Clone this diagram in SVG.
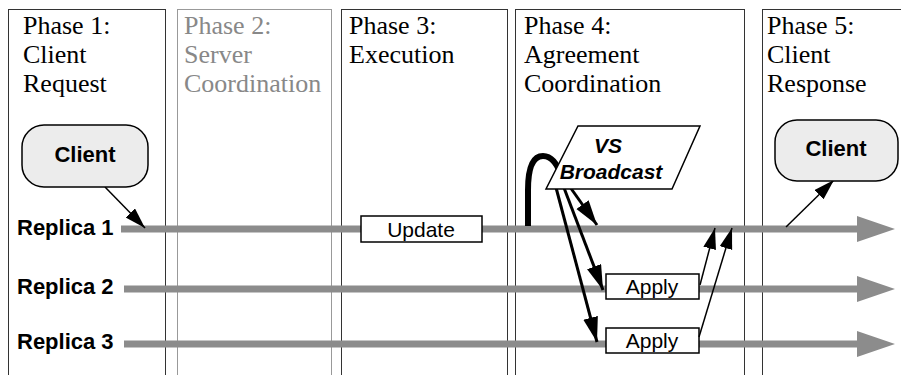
<svg xmlns="http://www.w3.org/2000/svg" width="901" height="375" viewBox="0 0 901 375">
<defs>
<style>
.phase{fill:#fff;stroke:#333;stroke-width:1}
.phase.dim{stroke:#999}
.ptxt{font-family:"Liberation Serif","Times New Roman",serif;font-size:26px;fill:#000}
.ptxt.dim{fill:#888}
.lane{stroke:#8c8c8c;stroke-width:7;fill:none}
.lanehead{fill:#8c8c8c}
.rlabel{font-family:"Liberation Sans",Arial,sans-serif;font-size:22px;font-weight:bold;fill:#000}
.box{fill:#fff;stroke:#000;stroke-width:1.5}
.btxt{font-family:"Liberation Sans",Arial,sans-serif;font-size:21px;fill:#000;text-anchor:middle}
.client{fill:#ececec;stroke:#000;stroke-width:1.5}
.ctxt{font-family:"Liberation Sans",Arial,sans-serif;font-size:22px;font-weight:bold;fill:#000;text-anchor:middle}
.vs{font-family:"Liberation Sans",Arial,sans-serif;font-size:21px;font-weight:bold;font-style:italic;fill:#000;text-anchor:middle}
.thin{stroke:#000;stroke-width:1.5;fill:none;marker-end:url(#ah)}
.thick{stroke:#000;stroke-width:3;fill:none;marker-end:url(#ahb)}
</style>
<marker id="ah" markerUnits="userSpaceOnUse" markerWidth="22" markerHeight="14" refX="21" refY="6.5" orient="auto">
<path d="M0,0 L21,6.5 L0,13 z" fill="#000"/>
</marker>
<marker id="ahb" markerUnits="userSpaceOnUse" markerWidth="26" markerHeight="16" refX="25" refY="7.5" orient="auto">
<path d="M0,0 L25,7.5 L0,15 z" fill="#000"/>
</marker>
</defs>

<g id="phase1">
<rect class="phase" x="8.5" y="9.5" width="157" height="380"/>
<text class="ptxt" x="23" y="34">Phase 1:</text>
<text class="ptxt" x="23" y="63">Client</text>
<text class="ptxt" x="23" y="92">Request</text>
</g>
<g id="phase2">
<rect class="phase dim" x="177.5" y="9.5" width="154" height="380"/>
<text class="ptxt dim" x="184" y="34">Phase 2:</text>
<text class="ptxt dim" x="184" y="63">Server</text>
<text class="ptxt dim" x="184" y="92">Coordination</text>
</g>
<g id="phase3">
<rect class="phase" x="341.5" y="9.5" width="166" height="380"/>
<text class="ptxt" x="349" y="34">Phase 3:</text>
<text class="ptxt" x="349" y="63">Execution</text>
</g>
<g id="phase4">
<rect class="phase" x="515.5" y="9.5" width="229" height="380"/>
<text class="ptxt" x="524" y="34">Phase 4:</text>
<text class="ptxt" x="524" y="63">Agreement</text>
<text class="ptxt" x="524" y="92">Coordination</text>
</g>
<g id="phase5">
<rect class="phase" x="762.5" y="9.5" width="160" height="380"/>
<text class="ptxt" x="767" y="34">Phase 5:</text>
<text class="ptxt" x="767" y="63">Client</text>
<text class="ptxt" x="767" y="92">Response</text>
</g>

<g id="replica1">
<line class="lane" x1="121" y1="229" x2="860" y2="229"/>
<polygon class="lanehead" points="857,216 895,229 857,242"/>
<text class="rlabel" x="17" y="235">Replica 1</text>
</g>
<g id="replica2">
<line class="lane" x1="124" y1="289" x2="860" y2="289"/>
<polygon class="lanehead" points="857,276 895,289 857,302"/>
<text class="rlabel" x="17" y="294">Replica 2</text>
</g>
<g id="replica3">
<line class="lane" x1="124" y1="344" x2="860" y2="344"/>
<polygon class="lanehead" points="857,331 895,344 857,357"/>
<text class="rlabel" x="17" y="349">Replica 3</text>
</g>

<g id="update">
<rect class="box" x="361" y="216" width="121" height="26"/>
<text class="btxt" x="421" y="237">Update</text>
</g>
<g id="apply2">
<rect class="box" x="606" y="274" width="93" height="25"/>
<text class="btxt" x="652" y="294">Apply</text>
</g>
<g id="apply3">
<rect class="box" x="606" y="328" width="93" height="25"/>
<text class="btxt" x="652" y="348">Apply</text>
</g>

<g id="connectors">
<line class="thin" x1="105" y1="187" x2="145" y2="228"/>
<line class="thin" x1="786" y1="227" x2="834" y2="180"/>
<path d="M528,226 L528,190 C528,168 533,156 543,156 C552,156 558,165 562,178" stroke="#000" stroke-width="6" fill="none"/>
<line class="thick" x1="554" y1="180" x2="597" y2="342"/>
<line class="thick" x1="561" y1="180" x2="603" y2="290"/>
<line class="thick" x1="565" y1="180" x2="597" y2="225"/>
<line class="thin" x1="700" y1="285" x2="715" y2="228"/>
<line class="thin" x1="699" y1="337" x2="732" y2="228"/>
</g>

<g id="vsbroadcast">
<polygon points="578,126 700,126 672,189 546,189" fill="#fff" stroke="#000" stroke-width="1.5"/>
<text class="vs" x="608" y="153">VS</text>
<text class="vs" x="611" y="179">Broadcast</text>
</g>

<g id="client1">
<rect class="client" x="22" y="125" width="126" height="62" rx="22" ry="22"/>
<text class="ctxt" x="85" y="162">Client</text>
</g>
<g id="client5">
<rect class="client" x="775" y="120" width="123" height="61" rx="22" ry="22"/>
<text class="ctxt" x="836" y="156">Client</text>
</g>
</svg>
